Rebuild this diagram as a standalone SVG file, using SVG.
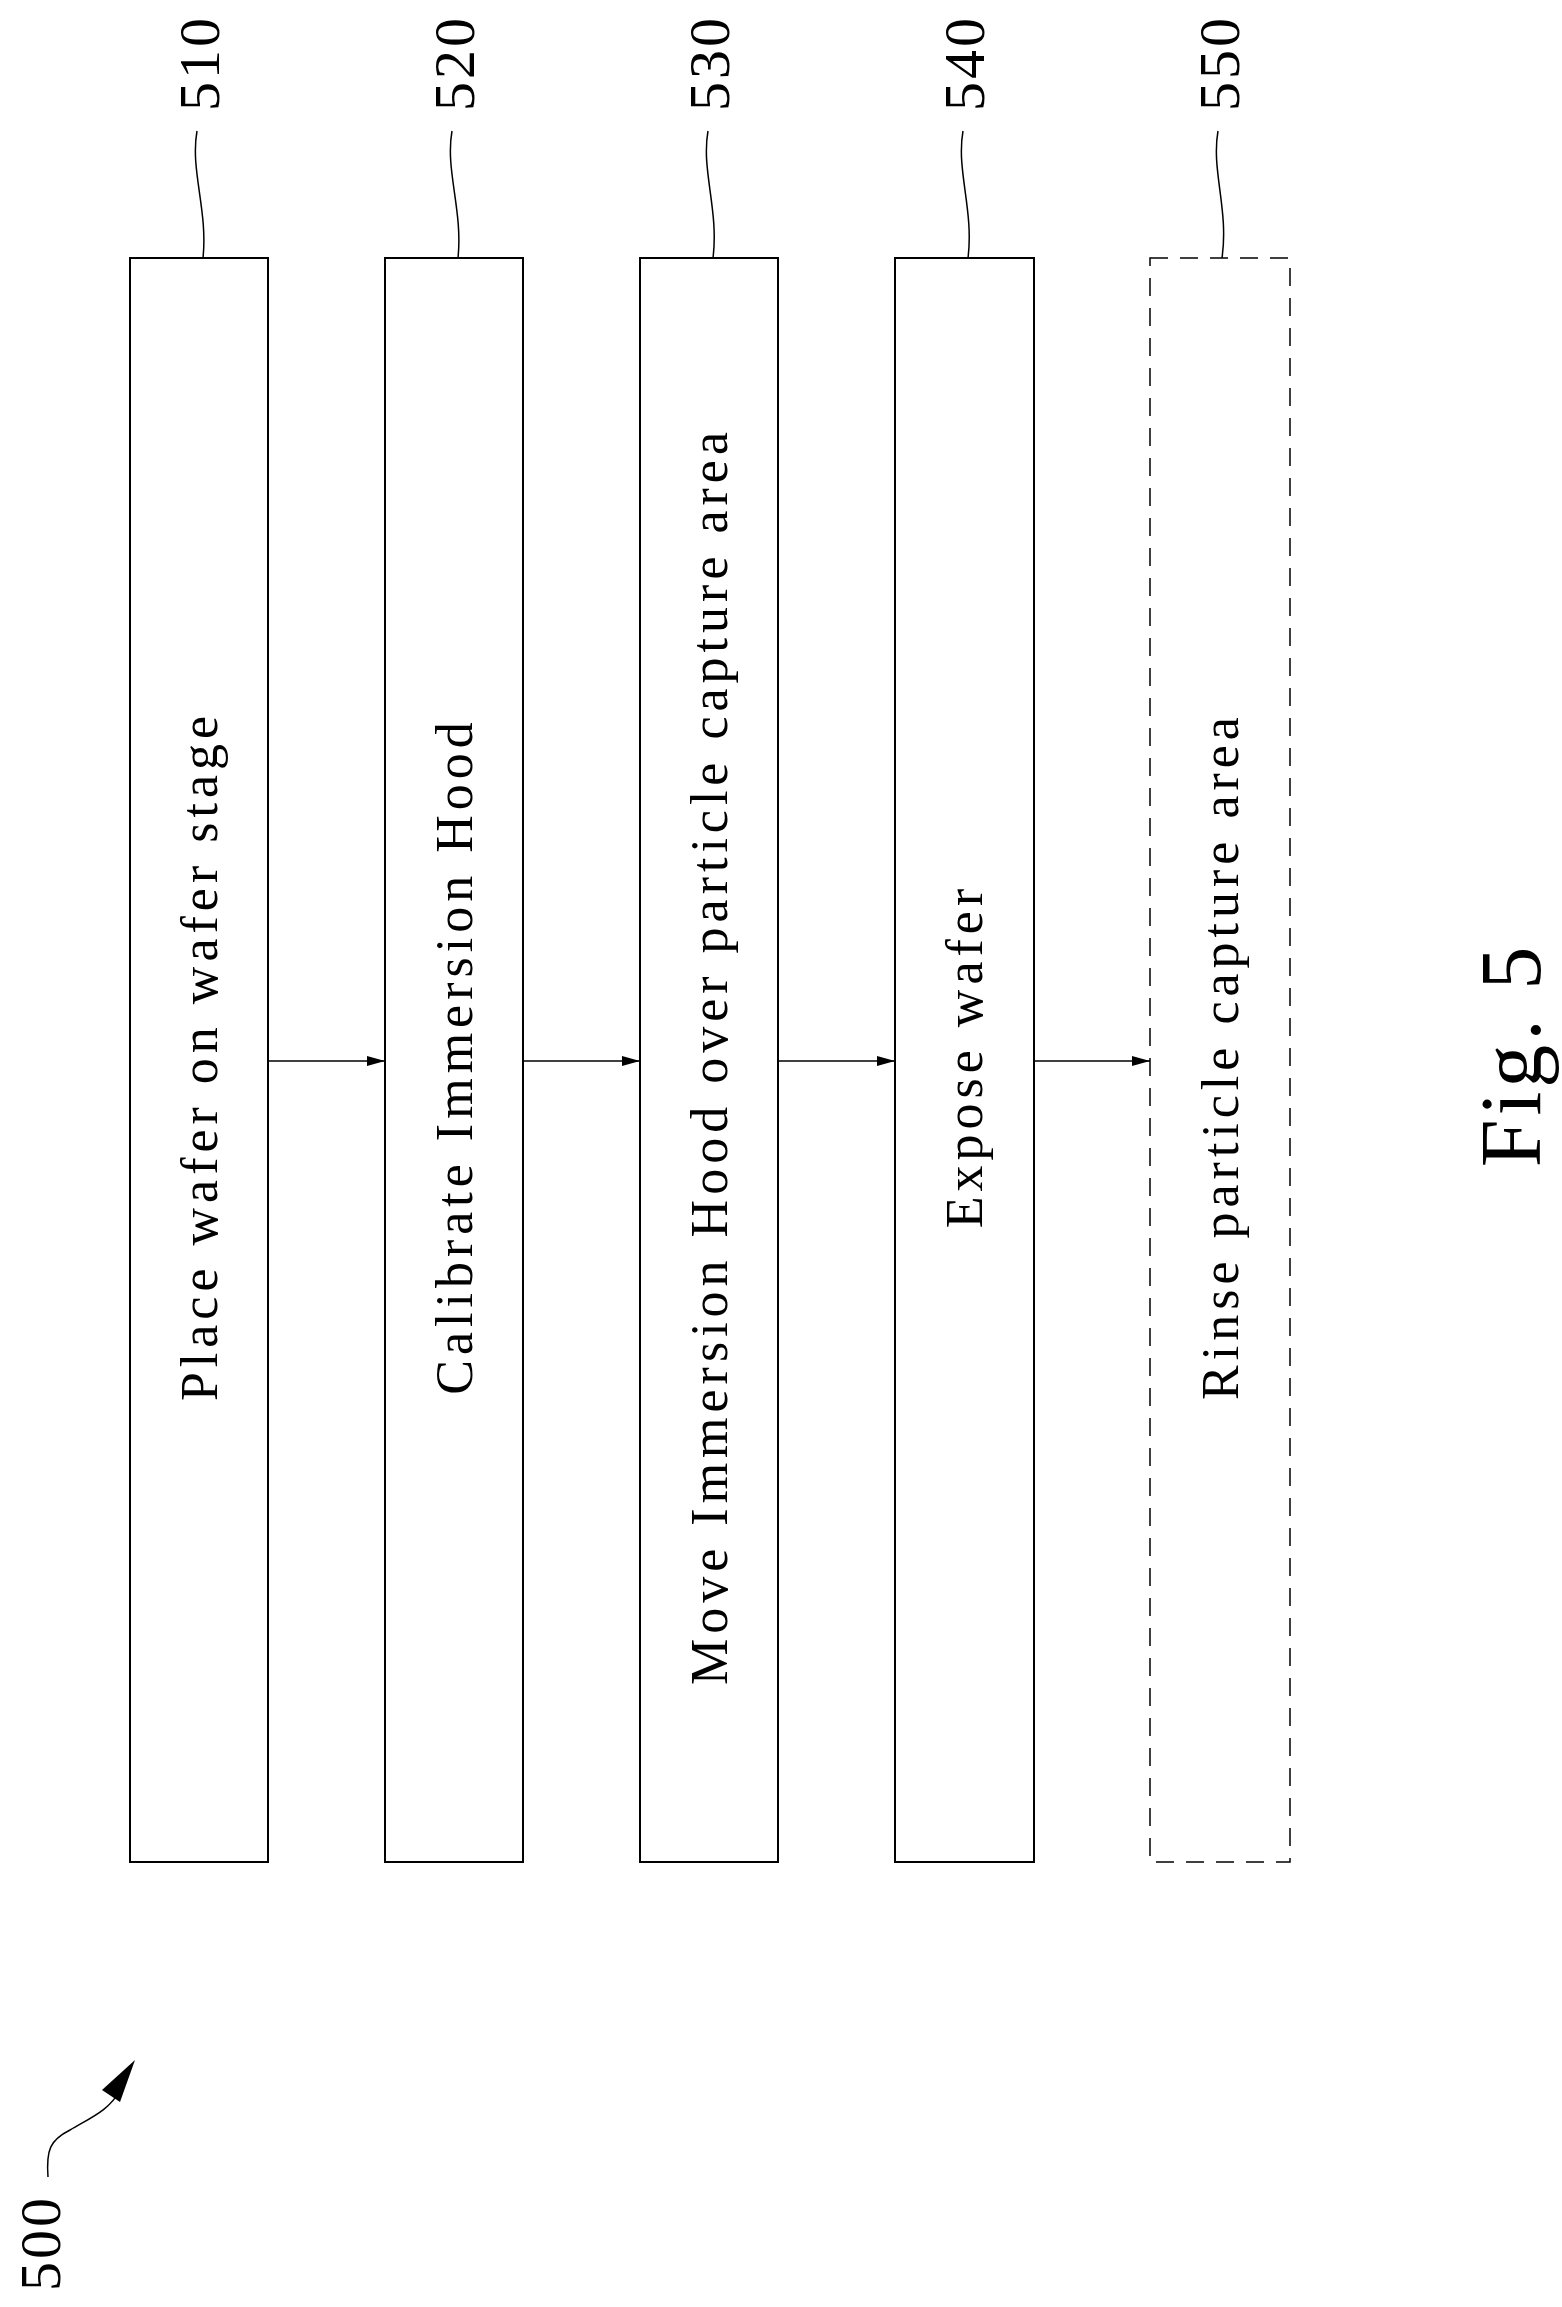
<svg xmlns="http://www.w3.org/2000/svg" width="1562" height="2307" viewBox="0 0 1562 2307">
<style>
.box{fill:none;stroke:#000;stroke-width:2}
.dash{fill:none;stroke:#000;stroke-width:1.5;stroke-dasharray:18,12}
.t{font-family:"Liberation Serif",serif;font-size:52px;text-anchor:middle;letter-spacing:5px}
.n{font-family:"Liberation Serif",serif;font-size:58px;text-anchor:middle;letter-spacing:3px}
.l{fill:none;stroke:#000;stroke-width:1.5}
</style>
<defs><marker id="a" markerWidth="18" markerHeight="12" refX="18" refY="6" orient="auto" markerUnits="userSpaceOnUse"><path d="M0,1 L18,6 L0,11z"/></marker></defs>
<rect width="1562" height="2307" fill="#fff"/>
<g id="n510"><rect class="box" x="130" y="258" width="138" height="1604"/><text class="t" transform="translate(217,1056) rotate(-90)">Place wafer on wafer stage</text></g>
<g id="n520"><rect class="box" x="385" y="258" width="138" height="1604"/><text class="t" transform="translate(472,1056) rotate(-90)">Calibrate Immersion Hood</text></g>
<g id="n530"><rect class="box" x="640" y="258" width="138" height="1604"/><text class="t" transform="translate(727,1056) rotate(-90)">Move Immersion Hood over particle capture area</text></g>
<g id="n540"><rect class="box" x="895" y="258" width="139" height="1604"/><text class="t" transform="translate(982,1056) rotate(-90)">Expose wafer</text></g>
<g id="n550"><rect class="dash" x="1150" y="258" width="140" height="1604"/><text class="t" transform="translate(1238,1056) rotate(-90)">Rinse particle capture area</text></g>
<g id="labels">
<text class="n" transform="translate(219,63) rotate(-90)">510</text>
<text class="n" transform="translate(474,63) rotate(-90)">520</text>
<text class="n" transform="translate(729,63) rotate(-90)">530</text>
<text class="n" transform="translate(984,63) rotate(-90)">540</text>
<text class="n" transform="translate(1239,63) rotate(-90)">550</text>
<text class="n" transform="translate(60,2243) rotate(-90)">500</text>
<text font-family="Liberation Serif,serif" font-size="86" text-anchor="middle" letter-spacing="4" transform="translate(1540,1055) rotate(-90)">Fig. 5</text>
</g>
<g id="connectors">
<path class="l" d="M197,131 C190,170 208,210 203,258"/>
<path class="l" d="M452,131 C445,170 463,210 458,258"/>
<path class="l" d="M708,131 C701,170 719,210 713,258"/>
<path class="l" d="M963,131 C956,170 974,210 968,258"/>
<path class="l" d="M1218,131 C1211,170 1229,210 1222,258"/>
<path class="l" d="M48,2177 C46,2150 50,2140 70,2130 C90,2118 110,2110 120,2090"/>
<path d="M135,2060 L102,2090 L120,2102 Z"/>
<line class="l" x1="268" y1="1061" x2="385" y2="1061" marker-end="url(#a)"/>
<line class="l" x1="523" y1="1061" x2="640" y2="1061" marker-end="url(#a)"/>
<line class="l" x1="778" y1="1061" x2="895" y2="1061" marker-end="url(#a)"/>
<line class="l" x1="1034" y1="1061" x2="1150" y2="1061" marker-end="url(#a)"/>
</g>
</svg>
